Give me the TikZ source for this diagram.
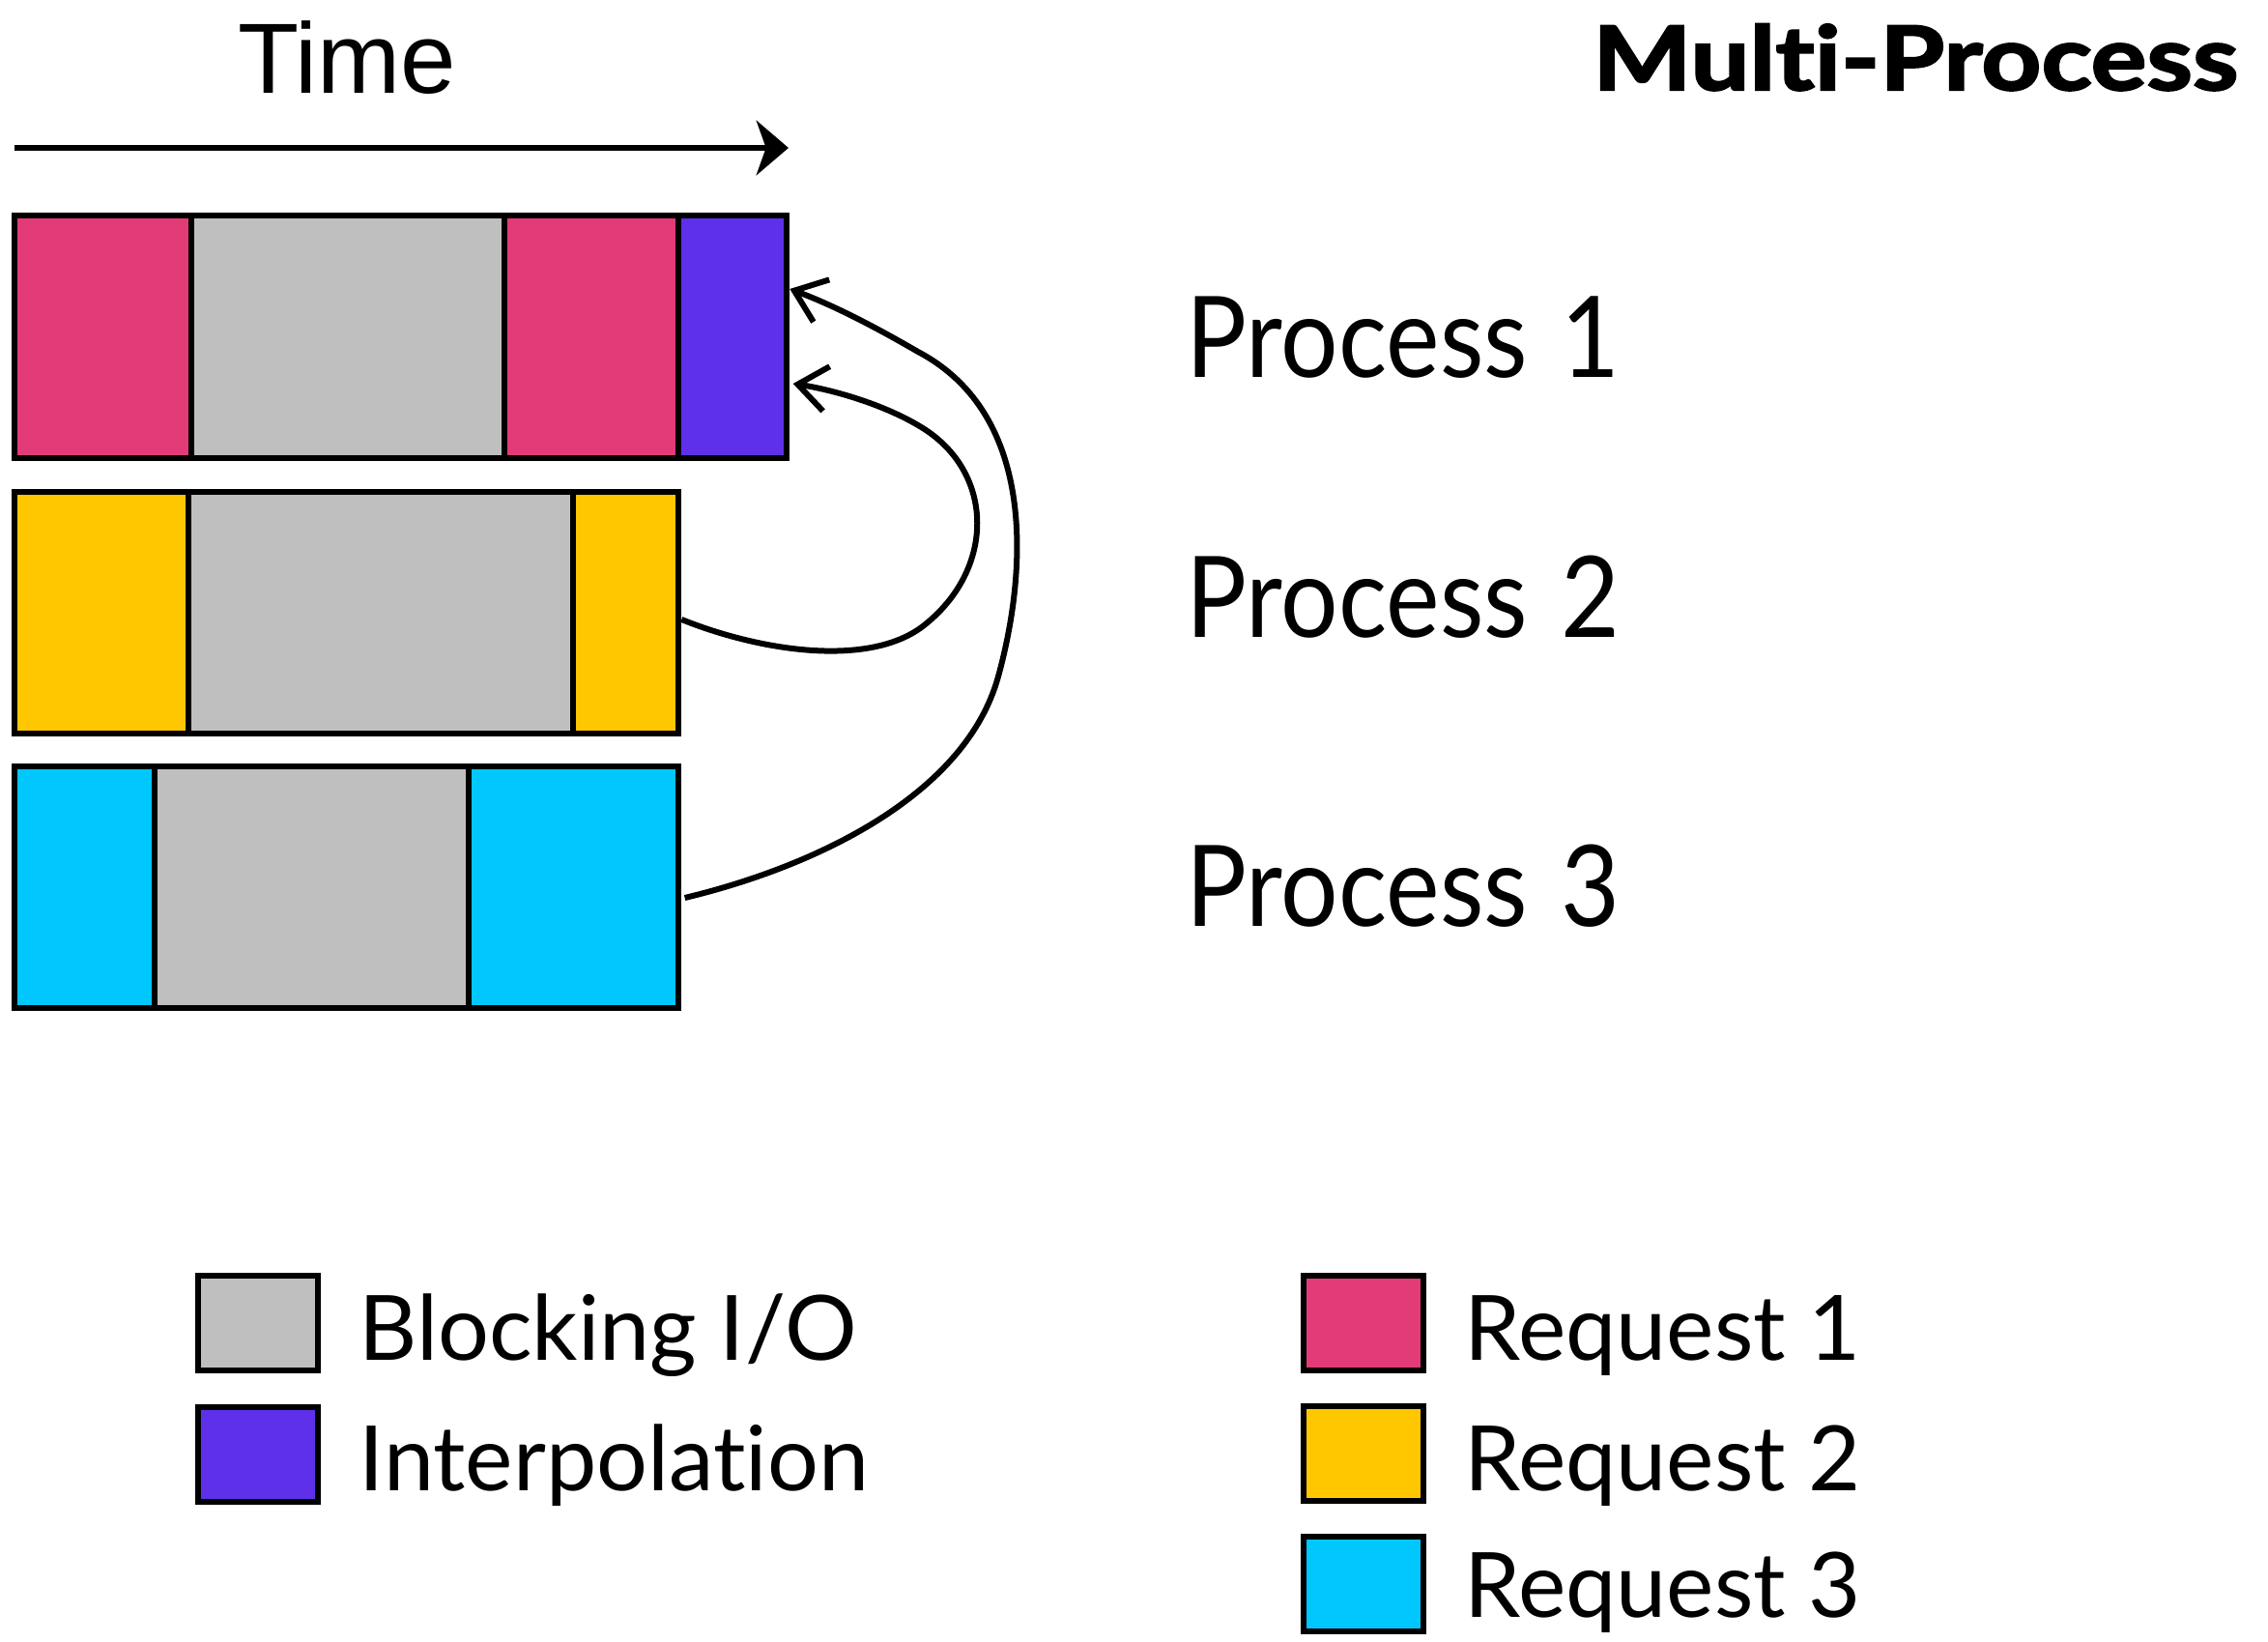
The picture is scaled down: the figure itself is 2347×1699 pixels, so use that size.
\documentclass[tikz,border=0pt]{standalone}
\usepackage{fontspec}
\setmainfont[Ligatures=NoCommon]{Lato}
\newfontfamily\labelfont[Ligatures=NoCommon,FakeStretch=0.9]{Lato}
\newfontfamily\timefont{Liberation Sans}
\newfontfamily\titlefont[Ligatures=NoCommon,FakeBold=2.5,FakeStretch=1.18]{Lato}
\usetikzlibrary{arrows.meta}

\definecolor{reqA}{HTML}{E33B78}
\definecolor{reqB}{HTML}{FFC700}
\definecolor{reqC}{HTML}{00C7FD}
\definecolor{blockio}{HTML}{BFBFBF}
\definecolor{interp}{HTML}{5F30E9}

\tikzset{
  seg/.style n args={3}{draw=black, line width=1.7pt, fill=#1,
    minimum width=#2*0.3pt, minimum height=#3*0.3pt,
    anchor=north west, inner sep=0pt, outer sep=0pt},
  legendbox/.style={draw=black, line width=1.7pt, fill=#1,
    minimum width=124*0.3pt, minimum height=98*0.3pt,
    anchor=north west, inner sep=0pt, outer sep=0pt},
  proclabel/.style={anchor=base west, inner sep=0pt, font=\labelfont\fontsize{35}{40}\selectfont},
  legendlabel/.style={anchor=base west, inner sep=0pt, font=\fontsize{28}{32}\selectfont},
  handoff/.style={line width=1.8pt, -{Straight Barb[length=9pt,width=14pt,line width=1.8pt]}},
}

\begin{document}
\begin{tikzpicture}[x=0.3pt, y=-0.3pt]
  \useasboundingbox (0,0) rectangle (2347,1699);

  % time axis
  \node[anchor=base, inner sep=0pt, font=\timefont\fontsize{31}{36}\selectfont] (time) at (359,97) {Time};
  \coordinate (axisL) at (15,153);
  \coordinate (axisR) at (816,153);
  \draw[line width=1.6pt, -{Stealth[length=10pt,width=17pt,inset=3pt]}] (axisL) -- (axisR);

  \node[anchor=base east, inner sep=0pt, font=\titlefont\bfseries\fontsize{27.5}{32}\selectfont] (title) at (2317,93) {Multi-Process};

  % process 1 timeline
  \node[seg={reqA}{183}{251}] (p1a) at (15,223) {};
  \node[seg={blockio}{324}{251}] (p1b) at (198,223) {};
  \node[seg={reqA}{180}{251}] (p1c) at (522,223) {};
  \node[seg={interp}{112}{251}] (p1d) at (702,223) {};

  % process 2 timeline
  \node[seg={reqB}{180}{250}] (p2a) at (15,509) {};
  \node[seg={blockio}{398}{250}] (p2b) at (195,509) {};
  \node[seg={reqB}{109}{250}] (p2c) at (593,509) {};

  % process 3 timeline
  \node[seg={reqC}{145}{250}] (p3a) at (15,793) {};
  \node[seg={blockio}{325}{250}] (p3b) at (160,793) {};
  \node[seg={reqC}{217}{250}] (p3c) at (485,793) {};

  % process labels
  \node[proclabel] (l1) at (1227,390) {Process\hspace{0.3em}1};
  \node[proclabel] (l2) at (1227,659) {Process\hspace{0.3em}2};
  \node[proclabel] (l3) at (1227,958) {Process\hspace{0.3em}3};

  % interpolation hand-offs
  \draw[handoff] ([xshift=1pt]p2c.east |- 0,641)
    .. controls (790,675) and (900,690) .. (955,648)
    .. controls (1030,590) and (1030,490) .. (955,443)
    .. controls (915,418) and (860,403) .. ([xshift=2pt]p1d.east |- 0,397);
  \draw[handoff] ([xshift=2pt]p3c.east |- 0,929)
    .. controls (850,895) and (1000,820) .. (1033,700)
    .. controls (1062,595) and (1075,430) .. (950,364)
    .. controls (900,335) and (860,315) .. ([xshift=1pt]p1d.east |- 0,299);

  % legend
  \node[legendbox=blockio] (kio) at (205,1320) {};
  \node[legendlabel] (kiot) at (371,1407) {Blocking I/O};
  \node[legendbox=interp] (kin) at (205,1456) {};
  \node[legendlabel] (kint) at (371,1542) {Interpolation};

  \node[legendbox=reqA] (kr1) at (1349,1320) {};
  \node[legendlabel] (kr1t) at (1515,1407) {Request 1};
  \node[legendbox=reqB] (kr2) at (1349,1455) {};
  \node[legendlabel] (kr2t) at (1515,1542) {Request 2};
  \node[legendbox=reqC] (kr3) at (1349,1590) {};
  \node[legendlabel] (kr3t) at (1515,1673) {Request 3};
\end{tikzpicture}
\end{document}
